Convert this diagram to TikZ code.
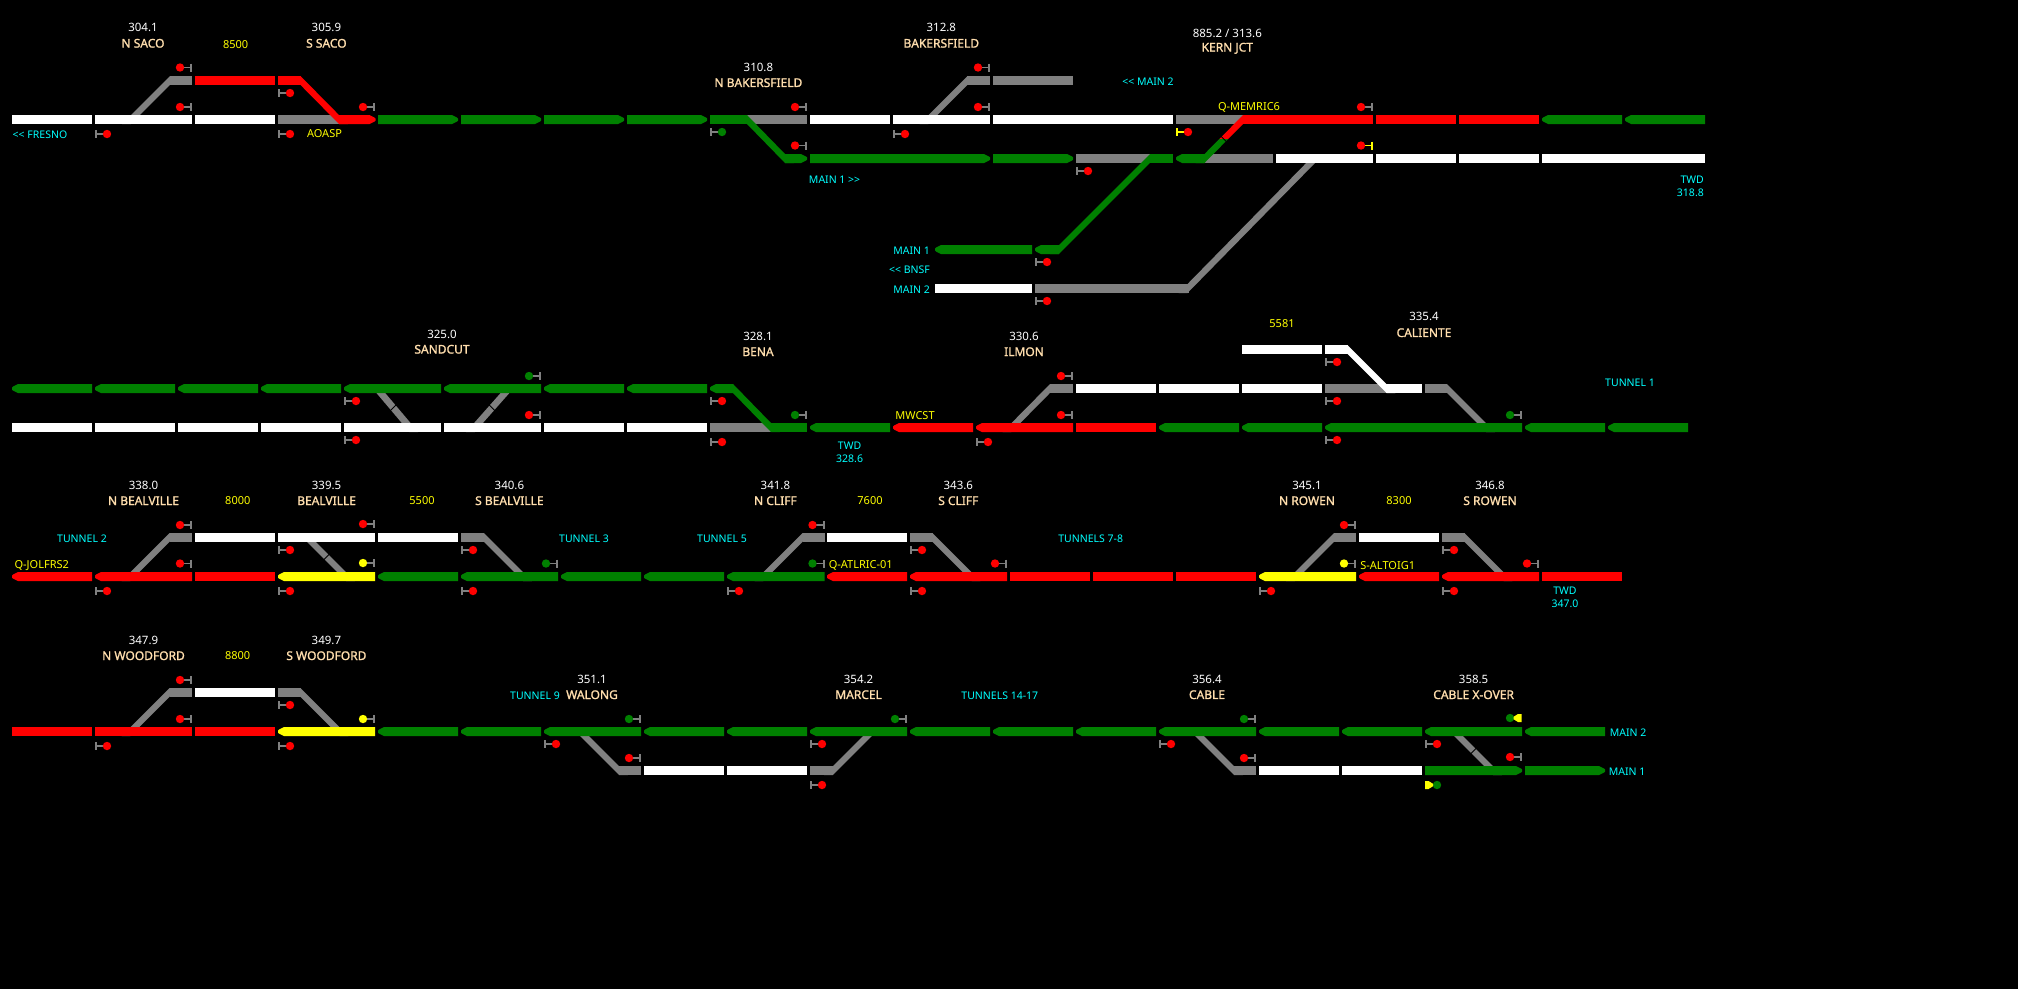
\documentclass[tikz,border=0pt]{standalone}
\usepackage{fontspec}
\setmainfont{Noto Sans}
\newfontfamily\namefont[FakeBold=1.3]{Noto Sans}
\definecolor{tg}{HTML}{008000}
\definecolor{tr}{HTML}{FF0000}
\definecolor{ty}{HTML}{FFFF00}
\definecolor{tw}{HTML}{FFFFFF}
\definecolor{tk}{HTML}{808080}
\definecolor{peach}{HTML}{FFDEAD}
\definecolor{lblcy}{HTML}{00FFFF}
\newcounter{lbl}
\newcommand\seg[4]{\fill[#4] (#1,#3-4.5) rectangle (#2,#3+4.5);}
\newcommand\segL[4]{\fill[#4] (#1+6,#3-4.5) -- (#2,#3-4.5) -- (#2,#3+4.5) -- (#1+6,#3+4.5) -- (#1+1,#3+2) -- (#1,#3+1) -- (#1,#3-1) -- (#1+1,#3-2) -- cycle;}
\newcommand\segR[4]{\fill[#4] (#1,#3-4.5) -- (#2-6,#3-4.5) -- (#2-1,#3-2) -- (#2,#3-1) -- (#2,#3+1) -- (#2-1,#3+2) -- (#2-6,#3+4.5) -- (#1,#3+4.5) -- cycle;}
\newcommand\diagraw[5]{\fill[#5] ({#1-4.4},#2) -- ({#1+4.4},#2) -- ({#3+4.4},#4) -- ({#3-4.4},#4) -- cycle;}
\newcommand\diag[5]{\pgfmathsetmacro\dsl{(#3-#1)/(#4-#2)}\diagraw{#1-\dsl*4.5}{#2-4.5}{#3+\dsl*4.5}{#4+4.5}{#5}}
% small black break across a diagonal: gapA for one going down to the right, gapB for one going down to the left
\newcommand\gapA[2]{\draw[black,line width=.9pt] (#1-4,#2+4) -- (#1+4,#2-4);}
\newcommand\gapB[2]{\draw[black,line width=.9pt] (#1-4,#2-4) -- (#1+4,#2+4);}
% signal: bar at the right, lamp at the left
\newcommand\sigl[4]{\draw[#4,line width=1.4pt] (#1-12,#2) -- (#1-.8,#2); \draw[#4,line width=1.6pt] (#1-.8,#2-4) -- (#1-.8,#2+4); \fill[#3] (#1-12,#2) circle (4.2);}
% signal: bar at the left, lamp at the right
\newcommand\sigr[4]{\draw[#4,line width=1.4pt] (#1+12,#2) -- (#1+.8,#2); \draw[#4,line width=1.6pt] (#1+.8,#2-4) -- (#1+.8,#2+4); \fill[#3] (#1+12,#2) circle (4.2);}
\tikzset{
  mp/.style={text=white,font=\fontsize{11.5}{13}\selectfont,inner sep=0pt},
  nm/.style={text=peach,font=\namefont\fontsize{12}{14}\selectfont,inner sep=0pt},
  yl/.style={text=ty,font=\fontsize{11}{13}\selectfont,inner sep=0pt},
  cy/.style={text=lblcy,font=\fontsize{10.5}{12}\selectfont,inner sep=0pt}
}
\newcommand\lb[4][]{\stepcounter{lbl}\node[#2,#1] (l\thelbl) at (#3) {#4};}
\newcommand\stn[5]{\lb{mp}{#1,#2}{#4}\lb{nm}{#1,#3}{#5}}
\begin{document}
\begin{tikzpicture}[x=1pt,y=-1pt]
\useasboundingbox (0,0) rectangle (2018,989);
\fill[black] (0,0) rectangle (2018,989);
% ---------- gray sections
\seg{278}{340}{119.5}{tk}
\seg{170}{192}{80.5}{tk}
\seg{747}{807}{119.5}{tk}
\seg{967}{990}{80.5}{tk}
\seg{993}{1073}{80.5}{tk}
\seg{1176}{1243}{119.5}{tk}
\seg{1076}{1150}{158.5}{tk}
\seg{1205}{1273}{158.5}{tk}
\seg{1035}{1189}{288.5}{tk}
\seg{710}{771}{427.5}{tk}
\seg{1050}{1073}{388.5}{tk}
\seg{1325}{1386}{388.5}{tk}
\seg{1425}{1447}{388.5}{tk}
\seg{169.5}{192}{537.5}{tk}
\seg{461}{484}{537.5}{tk}
\seg{802.5}{824.5}{537.5}{tk}
\seg{910}{932.5}{537.5}{tk}
\seg{1334}{1356}{537.5}{tk}
\seg{1442}{1464.5}{537.5}{tk}
\seg{169.5}{192}{692.5}{tk}
\seg{278}{300.5}{692.5}{tk}
\seg{619}{641}{770.5}{tk}
\seg{810}{833}{770.5}{tk}
\seg{1234}{1256}{770.5}{tk}
% ---------- diagonals
\diag{170}{80.5}{131}{119.5}{tk}
\diag{300.5}{80.5}{339}{119.5}{tr}
\diag{747}{119.5}{785}{158.5}{tg}
\diag{967.5}{80.5}{928.5}{119.5}{tk}
\diag{1150}{158.5}{1059}{249.5}{tg}
\diag{1315}{158.5}{1187.5}{288.5}{tk}
\diagraw{1247.5}{115}{1223.75}{139}{tr}
\diagraw{1223.75}{139}{1200}{163}{tg}
\gapB{1223.75}{139}
\diag{377}{388.5}{410}{427.5}{tk}\gapA{393.5}{407.5}
\diag{509}{388.5}{474.5}{427.5}{tk}\gapB{491.7}{407.5}
\diag{733}{388.5}{771}{427.5}{tg}
\diag{1050}{388.5}{1011.5}{427.5}{tk}
\diag{1347.5}{349.5}{1386.5}{388.5}{tw}
\diag{1447}{388.5}{1486}{427.5}{tk}
\diag{169.5}{537.5}{130.5}{576.5}{tk}
\diag{307}{537.5}{346}{576.5}{tk}\gapA{326.5}{557}
\diag{484}{537.5}{523}{576.5}{tk}
\diag{802.5}{537.5}{763.5}{576.5}{tk}
\diag{932.5}{537.5}{971.5}{576.5}{tk}
\diag{1334}{537.5}{1295}{576.5}{tk}
\diag{1464.5}{537.5}{1503.5}{576.5}{tk}
\diag{169.5}{692.5}{130.5}{731.5}{tk}
\diag{300.5}{692.5}{339.5}{731.5}{tk}
\diag{580}{731.5}{619}{770.5}{tk}
\diag{872}{731.5}{833}{770.5}{tk}
\diag{1195}{731.5}{1234}{770.5}{tk}
\diag{1454}{731.5}{1493}{770.5}{tk}\gapA{1473.5}{751}
% ---------- row 1 blocks
\seg{12}{92}{119.5}{tw}\seg{95}{192}{119.5}{tw}\seg{195}{275}{119.5}{tw}
\seg{195}{275}{80.5}{tr}
\seg{278}{300.5}{80.5}{tr}
\segR{339}{375.5}{119.5}{tr}
\segR{378}{458}{119.5}{tg}\segR{461}{541}{119.5}{tg}\segR{544}{624}{119.5}{tg}\segR{627}{707}{119.5}{tg}
\seg{710}{747}{119.5}{tg}
\seg{810}{890}{119.5}{tw}\seg{893}{990}{119.5}{tw}\seg{993}{1173}{119.5}{tw}
\seg{1243}{1373}{119.5}{tr}\seg{1376}{1456}{119.5}{tr}\seg{1459}{1539}{119.5}{tr}
\segL{1542}{1622}{119.5}{tg}\segL{1625}{1705}{119.5}{tg}
\segR{785}{807}{158.5}{tg}
\segR{810}{990}{158.5}{tg}\segR{993}{1073}{158.5}{tg}
\seg{1150}{1173}{158.5}{tg}
\segL{1176}{1205}{158.5}{tg}
\seg{1276}{1373}{158.5}{tw}\seg{1376}{1456}{158.5}{tw}\seg{1459}{1539}{158.5}{tw}\seg{1542}{1705}{158.5}{tw}
\segL{935}{1032}{249.5}{tg}\segL{1035}{1059}{249.5}{tg}
\seg{935}{1032}{288.5}{tw}
% ---------- row 2 blocks
\segL{12}{92}{388.5}{tg}\segL{95}{175}{388.5}{tg}\segL{178}{258}{388.5}{tg}\segL{261}{341}{388.5}{tg}
\segL{344}{441}{388.5}{tg}\segL{444}{541}{388.5}{tg}\segL{544}{624}{388.5}{tg}\segL{627}{707}{388.5}{tg}
\segL{710}{733}{388.5}{tg}
\seg{12}{92}{427.5}{tw}\seg{95}{175}{427.5}{tw}\seg{178}{258}{427.5}{tw}\seg{261}{341}{427.5}{tw}
\seg{344}{441}{427.5}{tw}\seg{444}{541}{427.5}{tw}\seg{544}{624}{427.5}{tw}\seg{627}{707}{427.5}{tw}
\seg{771}{807}{427.5}{tg}
\segL{810}{890}{427.5}{tg}
\segL{893}{973}{427.5}{tr}\segL{976}{1073}{427.5}{tr}\seg{1076}{1156}{427.5}{tr}
\segL{1159}{1239}{427.5}{tg}\segL{1242}{1322}{427.5}{tg}\segL{1325}{1522}{427.5}{tg}
\segL{1525}{1605}{427.5}{tg}\segL{1608}{1688}{427.5}{tg}
\seg{1076}{1156}{388.5}{tw}\seg{1159}{1239}{388.5}{tw}\seg{1242}{1322}{388.5}{tw}
\seg{1386}{1422}{388.5}{tw}
\seg{1242}{1322}{349.5}{tw}\seg{1325}{1347.5}{349.5}{tw}
% ---------- row 3 blocks
\segL{12}{92}{576.5}{tr}\segL{95}{192}{576.5}{tr}\seg{195}{275}{576.5}{tr}
\segL{278}{375}{576.5}{ty}
\segL{378}{458}{576.5}{tg}\segL{461}{558}{576.5}{tg}\segL{561}{641}{576.5}{tg}\segL{644}{724}{576.5}{tg}\segL{727}{824.5}{576.5}{tg}
\segL{827}{907}{576.5}{tr}\segL{910}{1007}{576.5}{tr}\seg{1010}{1090}{576.5}{tr}\seg{1093}{1173}{576.5}{tr}\seg{1176}{1256}{576.5}{tr}
\segL{1259}{1356}{576.5}{ty}
\segL{1359}{1439}{576.5}{tr}\segL{1442}{1539}{576.5}{tr}\seg{1542}{1622}{576.5}{tr}
\seg{195}{275}{537.5}{tw}\seg{278}{375}{537.5}{tw}\seg{378}{458}{537.5}{tw}
\seg{827}{907}{537.5}{tw}\seg{1359}{1439}{537.5}{tw}
% ---------- row 4 blocks
\seg{12}{92}{731.5}{tr}\seg{95}{192}{731.5}{tr}\seg{195}{275}{731.5}{tr}
\segL{278}{375}{731.5}{ty}
\segL{378}{458}{731.5}{tg}\segL{461}{541}{731.5}{tg}\segL{544}{641}{731.5}{tg}\segL{644}{724}{731.5}{tg}\segL{727}{807}{731.5}{tg}\segL{810}{907}{731.5}{tg}
\segL{910}{990}{731.5}{tg}\segL{993}{1073}{731.5}{tg}\segL{1076}{1156}{731.5}{tg}\segL{1159}{1256}{731.5}{tg}
\segL{1259}{1339}{731.5}{tg}\segL{1342}{1422}{731.5}{tg}\segL{1425}{1522}{731.5}{tg}\segL{1525}{1605}{731.5}{tg}
\seg{195}{275}{692.5}{tw}
\seg{644}{724}{770.5}{tw}\seg{727}{807}{770.5}{tw}
\seg{1259}{1339}{770.5}{tw}\seg{1342}{1422}{770.5}{tw}
\segR{1425}{1522}{770.5}{tg}\segR{1525}{1605}{770.5}{tg}
% ---------- signals row 1
\sigl{192}{67.5}{tr}{tk}\sigl{192}{107}{tr}{tk}\sigr{95}{134}{tr}{tk}\sigr{278}{93}{tr}{tk}\sigr{278}{134}{tr}{tk}\sigl{375}{107}{tr}{tk}
\sigr{710}{132}{tg}{tk}\sigl{807}{107}{tr}{tk}\sigl{807}{145.5}{tr}{tk}
\sigl{990}{67.5}{tr}{tk}\sigl{990}{107}{tr}{tk}\sigr{893}{134}{tr}{tk}
\sigr{1176}{132}{tr}{ty}\sigr{1076}{171}{tr}{tk}\sigr{1035}{262}{tr}{tk}\sigr{1035}{301}{tr}{tk}
\sigl{1373}{107}{tr}{tk}\sigl{1373}{145.5}{tr}{ty}
% signals row 2
\sigr{344}{401}{tr}{tk}\sigr{344}{440}{tr}{tk}\sigl{541}{376}{tg}{tk}\sigl{541}{415}{tr}{tk}
\sigr{710}{401}{tr}{tk}\sigr{710}{442}{tr}{tk}\sigl{807}{415}{tg}{tk}
\sigl{1073}{376}{tr}{tk}\sigl{1073}{415}{tr}{tk}\sigr{976}{442}{tr}{tk}
\sigr{1325}{362}{tr}{tk}\sigr{1325}{401}{tr}{tk}\sigr{1325}{440}{tr}{tk}\sigl{1522}{415}{tg}{tk}
% signals row 3
\sigl{192}{525}{tr}{tk}\sigl{192}{563.5}{tr}{tk}\sigr{95}{591}{tr}{tk}
\sigl{375}{524}{tr}{tk}\sigl{375}{563}{ty}{tk}\sigr{278}{550}{tr}{tk}\sigr{278}{591}{tr}{tk}
\sigr{461}{550}{tr}{tk}\sigr{461}{591}{tr}{tk}\sigl{558}{563.5}{tg}{tk}
\sigl{824.5}{525}{tr}{tk}\sigl{824.5}{563.5}{tg}{tk}\sigr{727}{591}{tr}{tk}
\sigr{910}{550}{tr}{tk}\sigr{910}{591}{tr}{tk}\sigl{1007}{563.5}{tr}{tk}
\sigl{1356}{525}{tr}{tk}\sigl{1356}{563.5}{ty}{tk}\sigr{1259}{591}{tr}{tk}
\sigr{1442}{550}{tr}{tk}\sigr{1442}{591}{tr}{tk}\sigl{1539}{563.5}{tr}{tk}
% signals row 4
\sigl{192}{680}{tr}{tk}\sigl{192}{719}{tr}{tk}\sigr{95}{746}{tr}{tk}\sigr{278}{705}{tr}{tk}\sigr{278}{746}{tr}{tk}\sigl{375}{719}{ty}{tk}
\sigr{544}{744}{tr}{tk}\sigl{641}{719}{tg}{tk}\sigl{641}{758}{tr}{tk}
\sigr{810}{744}{tr}{tk}\sigl{907}{719}{tg}{tk}\sigr{810}{785}{tr}{tk}
\sigr{1159}{744}{tr}{tk}\sigl{1256}{719}{tg}{tk}\sigl{1256}{758}{tr}{tk}
\sigr{1425}{744}{tr}{tk}\sigl{1522}{757}{tr}{tk}
\fill[tg] (1510,718) circle (4.2);
\fill[ty] (1521.5,714) -- (1521.5,722) -- (1518,722) -- (1513.5,719.2) -- (1513.5,716.8) -- (1518,714) -- cycle;
\fill[tg] (1437,785) circle (4.2);
\fill[ty] (1425,781) -- (1425,789) -- (1428.5,789) -- (1433,786.2) -- (1433,783.8) -- (1428.5,781) -- cycle;
% ---------- labels
\stn{143}{27.7}{43.3}{304.1}{N SACO}
\lb{yl}{235.7,45}{8500}
\stn{326.4}{27.7}{43.3}{305.9}{S SACO}
\lb[anchor=west]{cy}{12.5,134.7}{<{}< FRESNO}
\lb{yl}{324.5,133.3}{AOASP}
\stn{758.4}{67.3}{82.7}{310.8}{N BAKERSFIELD}
\stn{941.3}{27.7}{43.3}{312.8}{BAKERSFIELD}
\lb{cy}{1148,81.3}{<{}< MAIN 2}
\lb{cy}{834.6,179.3}{MAIN 1 >{}>}
\lb[anchor=east]{cy}{930,250.7}{MAIN 1}
\lb[anchor=east]{cy}{930,269.3}{<{}< BNSF}
\lb[anchor=east]{cy}{930,289.3}{MAIN 2}
\stn{1227.3}{33}{48.3}{885.2 / 313.6}{KERN JCT}
\lb{yl}{1249,107}{Q-MEMRIC6}
\lb[anchor=east]{cy}{1704,179.3}{TWD}
\lb[anchor=east]{cy}{1704,192.3}{318.8}
\stn{442}{334}{349.3}{325.0}{SANDCUT}
\stn{758}{336}{351.7}{328.1}{BENA}
\stn{1024}{336}{351.7}{330.6}{ILMON}
\lb{yl}{1282,324}{5581}
\stn{1424}{316.6}{332.7}{335.4}{CALIENTE}
\lb{cy}{1630,382.7}{TUNNEL 1}
\lb{yl}{915,416}{MWCST}
\lb{cy}{849.6,445.7}{TWD}
\lb{cy}{849.6,458.7}{328.6}
\stn{143.5}{485}{500.7}{338.0}{N BEALVILLE}
\lb{yl}{237.8,501}{8000}
\stn{326.6}{485}{500.7}{339.5}{BEALVILLE}
\lb{yl}{422,501}{5500}
\stn{509.4}{485}{500.7}{340.6}{S BEALVILLE}
\lb{cy}{82,538.7}{TUNNEL 2}
\lb{yl}{41.8,565.3}{Q-JOLFRS2}
\lb{cy}{584,538.7}{TUNNEL 3}
\lb{cy}{722,538.7}{TUNNEL 5}
\stn{775.4}{485}{500.7}{341.8}{N CLIFF}
\lb{yl}{870,501}{7600}
\stn{958.3}{485}{500.7}{343.6}{S CLIFF}
\lb{yl}{860.7,565.3}{Q-ATLRIC-01}
\lb{cy}{1090.7,538.7}{TUNNELS 7-8}
\stn{1307}{485}{500.7}{345.1}{N ROWEN}
\lb{yl}{1399,501}{8300}
\stn{1490}{485}{500.7}{346.8}{S ROWEN}
\lb{yl}{1387.7,565.3}{S-ALTOIG1}
\lb{cy}{1565,590.7}{TWD}
\lb{cy}{1565,603.7}{347.0}
\stn{143.5}{640}{655.7}{347.9}{N WOODFORD}
\lb{yl}{237.6,656}{8800}
\stn{326.4}{640}{655.7}{349.7}{S WOODFORD}
\lb{cy}{535,695.7}{TUNNEL 9}
\stn{592}{679}{694.7}{351.1}{WALONG}
\stn{858.6}{679}{694.7}{354.2}{MARCEL}
\lb{cy}{999.8,695.7}{TUNNELS 14-17}
\stn{1207}{679}{694.7}{356.4}{CABLE}
\stn{1473.6}{679}{694.7}{358.5}{CABLE X-OVER}
\lb[anchor=west]{cy}{1609.6,732.3}{MAIN 2}
\lb[anchor=west]{cy}{1608.6,771.3}{MAIN 1}
\end{tikzpicture}
\end{document}
